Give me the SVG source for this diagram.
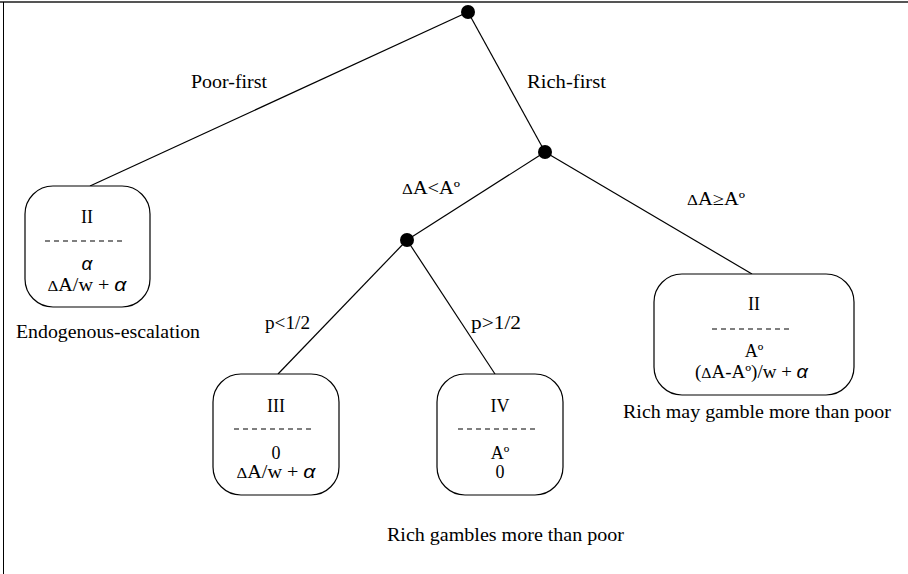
<svg xmlns="http://www.w3.org/2000/svg" width="908" height="574" viewBox="0 0 908 574">
<style>
.t{font-family:"Liberation Serif","Times New Roman",serif;font-size:18px;fill:#000}
.c{text-anchor:middle}
.a{font-family:"Liberation Sans",Arial,sans-serif;font-style:italic;font-size:19px}
.d{font-size:15px}
.box{fill:#fff;stroke:#000;stroke-width:1.2}
.dash{stroke:#000;stroke-width:1.1;stroke-dasharray:5 4}
.edge{stroke:#000;stroke-width:1.2;fill:none}
.dot{fill:#000}
</style>
<rect width="908" height="574" fill="#fff"/>
<line x1="0" y1="2" x2="908" y2="2" stroke="#555" stroke-width="2"/>
<line x1="3.5" y1="2" x2="3.5" y2="574" stroke="#000" stroke-width="1"/>
<g id="connectors">
<line class="edge" x1="468" y1="12" x2="90" y2="186"/>
<line class="edge" x1="468" y1="12" x2="545" y2="152"/>
<line class="edge" x1="545" y1="152" x2="407" y2="240"/>
<line class="edge" x1="545" y1="152" x2="752" y2="274"/>
<line class="edge" x1="407" y1="240" x2="278" y2="374"/>
<line class="edge" x1="407" y1="240" x2="495" y2="374"/>
<text class="t" x="191" y="88" textLength="76" lengthAdjust="spacingAndGlyphs">Poor-first</text>
<text class="t" x="527" y="88" textLength="79" lengthAdjust="spacingAndGlyphs">Rich-first</text>
<text class="t" x="402" y="194" textLength="58" lengthAdjust="spacingAndGlyphs"><tspan class="d">Δ</tspan>A&lt;Aº</text>
<text class="t" x="687" y="205" textLength="58" lengthAdjust="spacingAndGlyphs"><tspan class="d">Δ</tspan>A≥Aº</text>
<text class="t" x="265" y="329" textLength="45" lengthAdjust="spacingAndGlyphs">p&lt;1/2</text>
<text class="t" x="471" y="329" textLength="50" lengthAdjust="spacingAndGlyphs">p&gt;1/2</text>
</g>
<g id="root"><circle class="dot" cx="468" cy="12" r="7"/></g>
<g id="rich"><circle class="dot" cx="545" cy="152" r="7"/></g>
<g id="low"><circle class="dot" cx="407" cy="240" r="7"/></g>
<g id="poorFirst">
<rect class="box" x="25" y="186" width="125" height="121" rx="28"/>
<text class="t c" x="87" y="223">II</text>
<line class="dash" x1="45" y1="241" x2="126" y2="241"/>
<text class="a c" x="87" y="270">α</text>
<text class="t c" x="87" y="291" textLength="79" lengthAdjust="spacingAndGlyphs"><tspan class="d">Δ</tspan>A/w + <tspan class="a">α</tspan></text>
<text class="t" x="16" y="338" textLength="184" lengthAdjust="spacingAndGlyphs">Endogenous-escalation</text>
</g>
<g id="caseIII">
<rect class="box" x="213" y="374" width="126" height="121" rx="28"/>
<text class="t c" x="276" y="412">III</text>
<line class="dash" x1="234" y1="429" x2="315" y2="429"/>
<text class="t c" x="276" y="459">0</text>
<text class="t c" x="276" y="478" textLength="79" lengthAdjust="spacingAndGlyphs"><tspan class="d">Δ</tspan>A/w + <tspan class="a">α</tspan></text>
</g>
<g id="caseIV">
<rect class="box" x="437" y="374" width="126" height="121" rx="28"/>
<text class="t c" x="500" y="412">IV</text>
<line class="dash" x1="458" y1="429" x2="539" y2="429"/>
<text class="t c" x="500" y="459">Aº</text>
<text class="t c" x="500" y="478">0</text>
<text class="t" x="387" y="541" textLength="237" lengthAdjust="spacingAndGlyphs">Rich gambles more than poor</text>
</g>
<g id="caseII">
<rect class="box" x="654" y="274" width="200" height="121" rx="28"/>
<text class="t c" x="754" y="310">II</text>
<line class="dash" x1="712" y1="329" x2="793" y2="329"/>
<text class="t c" x="754" y="357">Aº</text>
<text class="t" x="695" y="378" textLength="113" lengthAdjust="spacingAndGlyphs">(<tspan class="d">Δ</tspan>A-Aº)/w + <tspan class="a">α</tspan></text>
<text class="t" x="623" y="418" textLength="268" lengthAdjust="spacingAndGlyphs">Rich may gamble more than poor</text>
</g>
</svg>
